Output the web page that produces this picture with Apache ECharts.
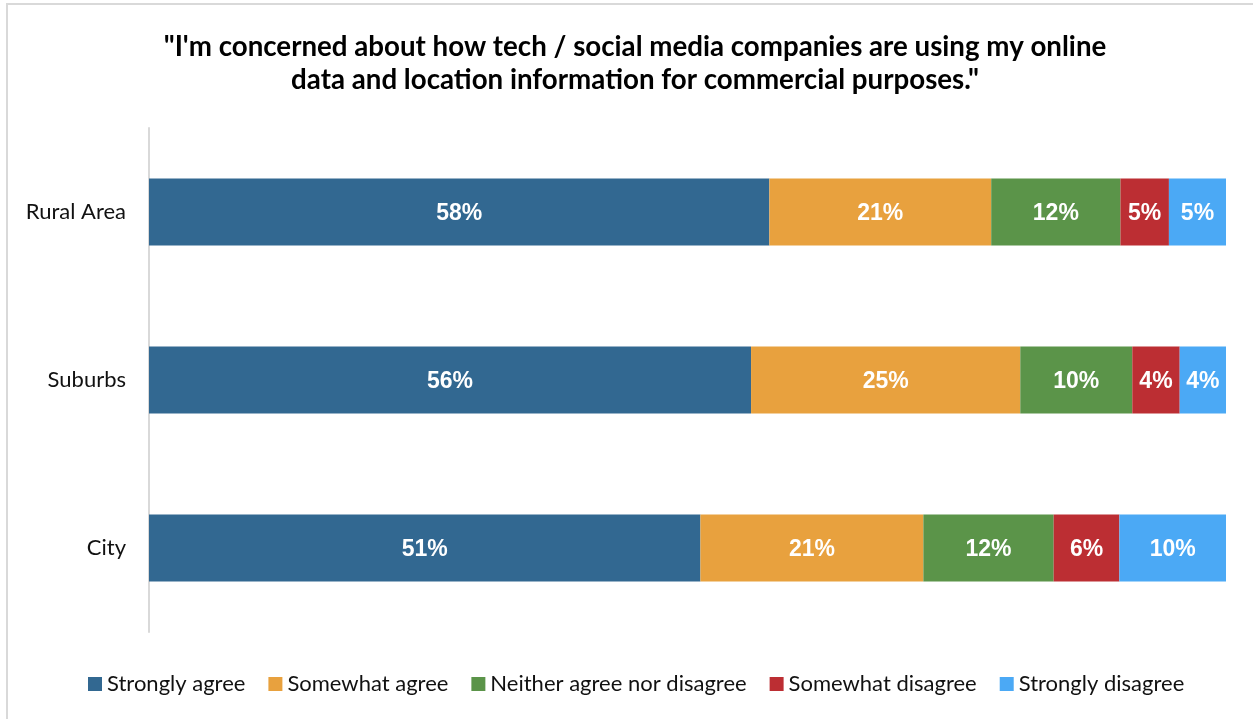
<!DOCTYPE html>
<html>
<head>
<meta charset="utf-8">
<script src="https://cdn.jsdelivr.net/npm/echarts@6/dist/echarts.min.js"></script>
<style>
  html, body { margin: 0; padding: 0; background: #fff; }
  #frame {
    position: absolute; left: 6px; top: 3px; width: 1300px; height: 800px;
    border-left: 2px solid #d9d9d9; border-top: 2px solid #d9d9d9;
  }
  #chart { position: absolute; left: 0; top: 0; width: 1253px; height: 719px; }
</style>
</head>
<body>
<div id="frame"></div>
<div id="chart"></div>
<script>
// bottom to top on the category axis
const categories = ["City", "Suburbs", "Rural Area"];
const seriesNames = [
  "Strongly agree",
  "Somewhat agree",
  "Neither agree nor disagree",
  "Somewhat disagree",
  "Strongly disagree",
];
// shares, labels are rounded
const stronglyAgree = [51.2, 55.9, 57.6];
const somewhatAgree = [20.7, 25.0, 20.6];
const neither = [12.1, 10.4, 12.0];
const somewhatDisagree = [6.1, 4.4, 4.5];
const stronglyDisagree = [9.9, 4.3, 5.3];
const colors = ["#326891", "#e8a13e", "#5b9449", "#bc2e33", "#4ba9f5"];

const values = [stronglyAgree, somewhatAgree, neither, somewhatDisagree, stronglyDisagree];

const myChart = echarts.init(document.getElementById("chart"));
myChart.setOption({
  animation: false,
  title: {
    text: '"I\'m concerned about how tech / social media companies are using my online\ndata and location information for commercial purposes."',
    left: 630,
    top: 26,
    textAlign: "center",
    textStyle: {
      fontFamily: "Lato",
      fontSize: 27.7,
      fontWeight: "bold",
      color: "#000",
      lineHeight: 33,
    },
  },
  legend: {
    data: seriesNames,
    bottom: 19,
    left: 83,
    itemWidth: 14,
    itemHeight: 14,
    itemGap: 23,
    icon: "rect",
    textStyle: { fontFamily: "Lato", fontSize: 22, color: "#111" },
  },
  grid: { left: 149, right: 27, top: 128, bottom: 87 },
  xAxis: {
    type: "value",
    min: 0,
    max: 100,
    show: false,
  },
  yAxis: {
    type: "category",
    data: categories,
    axisLine: { lineStyle: { color: "#d9d9d9", width: 2 } },
    axisTick: { show: false },
    axisLabel: { fontFamily: "Lato", fontSize: 22, color: "#111", margin: 23 },
  },
  series: seriesNames.map((name, i) => ({
    name: name,
    type: "bar",
    stack: "x",
    barWidth: 67,
    color: colors[i],
    data: values[i],
    label: {
      show: true,
      position: "inside",
      offset: [0, 2],
      color: "#fff",
      fontFamily: "Liberation Sans",
      fontWeight: "bold",
      fontSize: 23,
      formatter: (p) => Math.round(p.value) + "%",
    },
  })),
});
</script>
</body>
</html>
